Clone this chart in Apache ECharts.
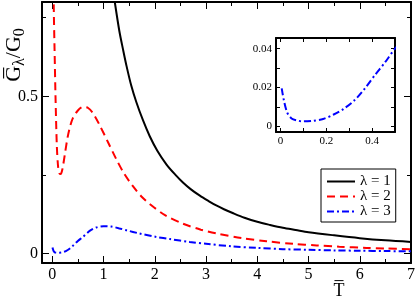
<!DOCTYPE html>
<html>
<head>
<meta charset="utf-8">
<script src="https://cdn.jsdelivr.net/npm/echarts@6/dist/echarts.min.js"></script>
<style>html,body{margin:0;padding:0;background:#fff}#c{width:418px;height:301px}</style>
</head>
<body>
<div id="c"></div>
<script>
// λ = 1 (black, solid)
const t1 = [1.15, 1.22, 1.31, 1.38, 1.45, 1.54, 1.64, 1.77, 1.90, 2.05, 2.23, 2.4, 2.55, 2.7, 2.88, 3.05, 3.2, 3.35, 3.52, 3.75, 4.0, 4.25, 4.5, 4.75, 5.0, 5.5, 6.0, 6.5, 7.0];
const g1 = [0.88, 0.80, 0.707, 0.65, 0.596, 0.535, 0.482, 0.424, 0.374, 0.327, 0.283, 0.251, 0.226, 0.205, 0.184, 0.167, 0.153, 0.141, 0.129, 0.114, 0.101, 0.091, 0.082, 0.075, 0.068, 0.058, 0.049, 0.042, 0.037];
// λ = 2 (red, dashed)
const t2 = [0.02, 0.03, 0.045, 0.065, 0.09, 0.115, 0.14, 0.165, 0.2, 0.25, 0.3, 0.35, 0.4, 0.5, 0.6, 0.7, 0.8, 0.92, 1.1, 1.25, 1.4, 1.57, 1.75, 1.9, 2.2, 2.55, 2.9, 3.2, 3.7, 4.18, 4.7, 5.16, 5.6, 6.13, 6.5, 7.0];
const g2 = [1.0, 0.78, 0.65, 0.49, 0.34, 0.275, 0.255, 0.253, 0.27, 0.32, 0.37, 0.405, 0.43, 0.455, 0.466, 0.463, 0.445, 0.41, 0.35, 0.30, 0.255, 0.215, 0.18, 0.158, 0.122, 0.095, 0.076, 0.064, 0.049, 0.039, 0.031, 0.026, 0.022, 0.018, 0.016, 0.014];
// λ = 3 (blue, dash-dot)
const t3 = [0.005, 0.014, 0.029, 0.048, 0.07, 0.1, 0.143, 0.186, 0.23, 0.274, 0.325, 0.369, 0.413, 0.457, 0.5, 0.6, 0.73, 0.86, 1.0, 1.15, 1.31, 1.45, 1.7, 2.03, 2.3, 2.68, 3.0, 3.5, 4.0, 4.5, 5.0, 5.5, 6.0, 6.5, 7.0];
const g3 = [0.0195, 0.0136, 0.007, 0.004, 0.003, 0.0025, 0.0028, 0.0037, 0.0059, 0.0088, 0.0136, 0.0196, 0.0265, 0.033, 0.040, 0.053, 0.072, 0.083, 0.087, 0.086, 0.080, 0.074, 0.064, 0.053, 0.046, 0.037, 0.031, 0.023, 0.018, 0.014, 0.012, 0.010, 0.009, 0.008, 0.007];
const names = ['λ = 1', 'λ = 2', 'λ = 3'];
// tick values
const xMajor = [0, 1, 2, 3, 4, 5, 6, 7];
const xMinor = [0.5, 1.5, 2.5, 3.5, 4.5, 5.5, 6.5];
const yMajor = [0, 0.5];
const yMinor = [0.25, 0.75];
const ixTicks = [0, 0.1, 0.2, 0.3, 0.4, 0.5];
const ixLabels = [0, 0.2, 0.4];
const iyTicks = [0, 0.01, 0.02, 0.03, 0.04];
const iyLabels = [0, 0.02, 0.04];

const pairs = (t, g) => t.map((v, i) => [v, g[i]]);
const FONT = 'Liberation Serif';
const K = '#000';

function ax(grid, pos, min, max, ticks, len, labels, line, fs) {
  return {
    type: 'value', gridIndex: grid, position: pos, min: min, max: max,
    axisLine: {show: line, onZero: false, lineStyle: {color: K, width: 2}},
    axisTick: {show: true, inside: true, length: len, customValues: ticks, lineStyle: {color: K, width: 1}},
    axisLabel: labels ? {show: true, customValues: labels, color: K, fontFamily: FONT, fontSize: fs, margin: 4} : {show: false},
    splitLine: {show: false}
  };
}

const chart = echarts.init(document.getElementById('c'), null, {renderer: 'canvas'});
chart.setOption({
  animation: false,
  backgroundColor: '#fff',
  grid: [
    {left: 42, top: 2, right: 5, bottom: 38},
    {left: 276, top: 38, width: 119, height: 94, backgroundColor: '#fff', show: true, borderWidth: 0}
  ],
  xAxis: [
    ax(0, 'bottom', -0.2, 7, xMajor, 7, xMajor, true, 16),
    ax(0, 'bottom', -0.2, 7, xMinor, 4, null, false, 16),
    ax(0, 'top', -0.2, 7, xMajor, 7, null, true, 16),
    ax(0, 'top', -0.2, 7, xMinor, 4, null, false, 16),
    ax(1, 'bottom', -0.02, 0.5, ixTicks, 4, ixLabels, true, 11),
    ax(1, 'top', -0.02, 0.5, ixTicks, 4, null, true, 11)
  ],
  yAxis: [
    ax(0, 'left', -0.03, 0.8, yMajor, 7, yMajor, true, 16),
    ax(0, 'left', -0.03, 0.8, yMinor, 4, null, false, 16),
    ax(0, 'right', -0.03, 0.8, yMajor, 7, null, true, 16),
    ax(0, 'right', -0.03, 0.8, yMinor, 4, null, false, 16),
    ax(1, 'left', -0.003, 0.0455, iyTicks, 4, iyLabels, true, 11),
    ax(1, 'right', -0.003, 0.0455, iyTicks, 4, null, true, 11)
  ],
  legend: {
    data: names, orient: 'vertical', left: 321, top: 169,
    padding: [5, 5, 3, 5], itemGap: 0, itemWidth: 28, itemHeight: 10,
    borderColor: K, borderWidth: 1, backgroundColor: '#fff',
    itemStyle: {color: 'transparent', borderWidth: 0, opacity: 0},
    textStyle: {fontFamily: FONT, fontSize: 15, color: K, lineHeight: 14},
    selectedMode: false
  },
  series: [
    {name: names[0], type: 'line', xAxisIndex: 0, yAxisIndex: 0, symbol: 'none', clip: true, z: 3,
     data: pairs(t1, g1), smooth: 0.3, lineStyle: {color: '#000', width: 2}, itemStyle: {color: '#000'}},
    {name: names[1], type: 'line', xAxisIndex: 0, yAxisIndex: 0, symbol: 'none', clip: true, z: 3,
     data: pairs(t2, g2), smooth: 0.3, lineStyle: {color: '#ff0000', width: 2, type: [8, 5]}, itemStyle: {color: '#ff0000'}},
    {name: names[2], type: 'line', xAxisIndex: 0, yAxisIndex: 0, symbol: 'none', clip: true, z: 3,
     data: pairs(t3, g3), smooth: 0.3, lineStyle: {color: '#0000ff', width: 2, type: [7, 3, 2, 3]}, itemStyle: {color: '#0000ff'}},
    {name: 'inset', type: 'line', xAxisIndex: 4, yAxisIndex: 4, symbol: 'none', clip: true, z: 5,
     data: pairs(t3, g3), smooth: 0.3, lineStyle: {color: '#0000ff', width: 2, type: [7, 3, 2, 3]}}
  ],
  graphic: [
    {type: 'text', x: 14, y: 55, rotation: Math.PI / 2,
     style: {text: '{g|G\u0305}{s|λ}{g|/G}{s|0}', align: 'center', verticalAlign: 'middle',
       rich: {g: {fontFamily: FONT, fontSize: 22, lineHeight: 28, verticalAlign: 'middle', fill: K},
              s: {fontFamily: FONT, fontSize: 16, lineHeight: 16, verticalAlign: 'bottom', fill: K}}}},
    {type: 'text', x: 339, y: 291,
     style: {text: 'T\u0305', align: 'center', verticalAlign: 'middle', fontFamily: FONT, fontSize: 18, fill: K}}
  ]
});
</script>
</body>
</html>
